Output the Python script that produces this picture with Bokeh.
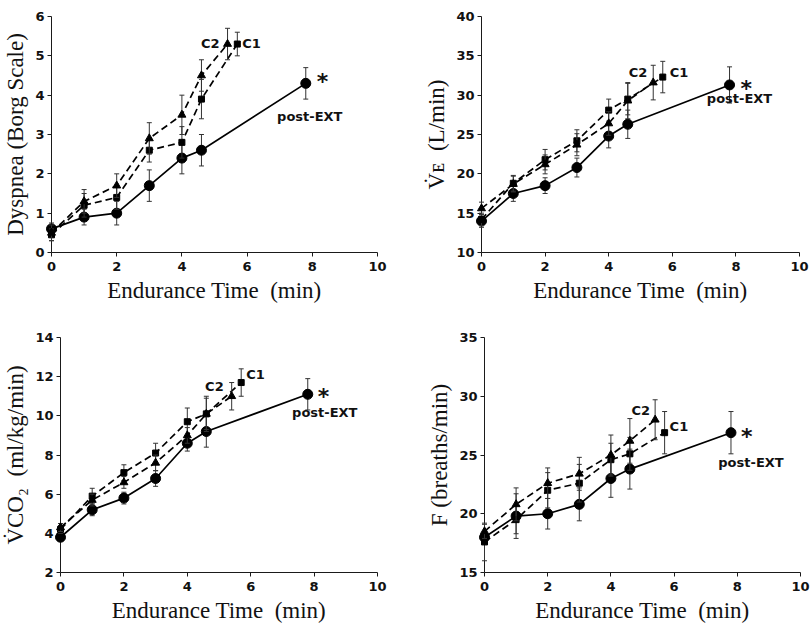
from bokeh.plotting import figure
from bokeh.layouts import column, row
from bokeh.models import Range1d, FixedTicker, ColumnDataSource
from bokeh.core.properties import value
from bokeh.embed import file_html
from bokeh.resources import INLINE

# ---- data ----
time_post = [0, 1, 2, 3, 4, 4.6, 7.8]
time_c1 = [0, 1, 2, 3, 4, 4.6, 5.7]
time_c2 = [0, 1, 2, 3, 4, 4.6, 5.4]
x_ticks = [0, 2, 4, 6, 8, 10]

dysp_post = [0.6, 0.9, 1.0, 1.7, 2.4, 2.6, 4.3]
dysp_post_se = [0.15, 0.2, 0.3, 0.4, 0.4, 0.4, 0.4]
dysp_c1 = [0.45, 1.2, 1.4, 2.6, 2.8, 3.9, 5.3]
dysp_c1_se = [0.15, 0.3, 0.3, 0.3, 0.4, 0.5, 0.3]
dysp_c2 = [0.5, 1.3, 1.7, 2.9, 3.5, 4.5, 5.3]
dysp_c2_se = [0.2, 0.3, 0.3, 0.4, 0.5, 0.4, 0.4]
dysp_ticks = [0, 1, 2, 3, 4, 5, 6]

ve_post = [14.0, 17.5, 18.5, 20.8, 24.8, 26.3, 31.3]
ve_post_se = [0.8, 1.0, 1.0, 1.2, 1.5, 1.8, 2.3]
ve_c1 = [14.2, 18.8, 21.8, 24.2, 28.1, 29.5, 32.3]
ve_c1_se = [0.8, 1.0, 1.3, 1.4, 1.4, 2.0, 2.0]
ve_c2 = [15.6, 18.7, 21.2, 23.7, 26.4, 29.3, 31.6]
ve_c2_se = [0.8, 1.0, 1.2, 1.4, 1.5, 2.3, 2.2]
ve_ticks = [10, 15, 20, 25, 30, 35, 40]

vco2_post = [3.8, 5.2, 5.8, 6.8, 8.6, 9.2, 11.1]
vco2_post_se = [0.2, 0.3, 0.3, 0.4, 0.4, 0.8, 0.8]
vco2_c1 = [4.2, 5.9, 7.1, 8.1, 9.7, 10.1, 11.7]
vco2_c1_se = [0.2, 0.4, 0.4, 0.5, 0.7, 0.9, 0.7]
vco2_c2 = [4.3, 5.7, 6.6, 7.6, 9.0, 10.1, 11.0]
vco2_c2_se = [0.2, 0.3, 0.3, 0.4, 0.4, 0.8, 0.7]
vco2_ticks = [2, 4, 6, 8, 10, 12, 14]

f_post = [18.0, 19.8, 20.0, 20.8, 23.0, 23.8, 26.9]
f_post_se = [0.5, 1.9, 1.3, 1.4, 1.6, 1.7, 1.8]
f_c1 = [17.6, 19.5, 22.0, 22.6, 24.6, 25.1, 26.9]
f_c1_se = [1.6, 1.2, 1.5, 1.6, 1.4, 1.4, 1.8]
f_c2 = [18.5, 20.8, 22.6, 23.4, 25.0, 26.2, 28.0]
f_c2_se = [0.6, 1.4, 1.3, 1.4, 1.7, 1.9, 1.7]
f_ticks = [15, 20, 25, 30, 35]

x_label = "Endurance Time \u00a0(min)"
SANS = "'DejaVu Sans'"
SERIF = "'Liberation Serif', 'Times New Roman', serif"


def make_panel(ylabel, yticks, post, post_se, c1, c1_se, c2, c2_se,
               width, height, borders, offs):
    left, right, top, bottom = borders
    p = figure(width=width, height=height,
               x_range=Range1d(0, 10), y_range=Range1d(yticks[0], yticks[-1]),
               min_border_left=left, min_border_right=right,
               min_border_top=top, min_border_bottom=bottom,
               output_backend="svg", toolbar_location=None)
    p.outline_line_color = None
    p.xgrid.visible = False
    p.ygrid.visible = False
    p.background_fill_color = "white"
    p.border_fill_color = "white"

    for ax in (p.xaxis[0], p.yaxis[0]):
        ax.axis_line_color = "#1a1a1a"
        ax.axis_line_width = 1
        ax.major_tick_line_color = "#1a1a1a"
        ax.major_tick_out = 4
        ax.major_tick_in = 0
        ax.minor_tick_line_color = None
        ax.major_label_text_font = SANS
        ax.major_label_text_font_style = "bold"
        ax.major_label_text_font_size = "13px"
        ax.major_label_text_color = "#111111"
        ax.axis_label_text_font = SERIF
        ax.axis_label_text_font_style = "normal"
        ax.axis_label_text_font_size = "23px"
        ax.axis_label_text_color = "#111111"
    p.xaxis.ticker = FixedTicker(ticks=x_ticks)
    p.yaxis.ticker = FixedTicker(ticks=yticks)
    p.xaxis.axis_label = x_label
    p.yaxis.axis_label = ylabel
    p.xaxis.major_label_standoff = 5
    p.yaxis.major_label_standoff = 3
    p.xaxis.axis_label_standoff = 4
    p.yaxis.axis_label_standoff = 4

    series = [
        (time_post, post, post_se, "solid", "circle", 10),
        (time_c1, c1, c1_se, "7 4", "square", 6),
        (time_c2, c2, c2_se, "7 4", "triangle", 8),
    ]
    for xs, ys, se, dash, marker, size in series:
        src = ColumnDataSource(dict(
            x=xs, y=ys,
            lo=[v - e for v, e in zip(ys, se)],
            hi=[v + e for v, e in zip(ys, se)]))
        p.segment(x0="x", y0="lo", x1="x", y1="hi", source=src,
                  line_color="#333333", line_width=1, level="overlay")
        p.scatter(x="x", y="lo", source=src, marker="dash", size=5,
                  line_color="#333333", line_width=1, level="overlay")
        p.scatter(x="x", y="hi", source=src, marker="dash", size=5,
                  line_color="#333333", line_width=1, level="overlay")
        p.line(x="x", y="y", source=src, line_color="black", line_width=1.7,
               line_dash=dash, level="overlay")
        p.scatter(x="x", y="y", source=src, marker=marker, size=size,
                  fill_color="black", line_color="black", level="overlay")

    # labels anchored to the final point of each series
    labels = [
        (time_c2[-1], c2[-1], "C2", "right", offs["C2"], "13px"),
        (time_c1[-1], c1[-1], "C1", "left", offs["C1"], "13px"),
        (time_post[-1], post[-1], "*", "left", offs["star"], "22px"),
        (time_post[-1], post[-1], "post-EXT", "center", offs["post"], "13px"),
    ]
    for x, y, t, align, (dx, dy), fs in labels:
        p.text(x=[x], y=[y], text=[t], x_offset=dx, y_offset=dy,
               text_align=align, text_baseline="middle",
               text_font=value(SANS), text_font_style="bold",
               text_font_size=fs, text_color="#111111", level="overlay")
    return p


p1 = make_panel("Dyspnea (Borg Scale)", dysp_ticks,
                dysp_post, dysp_post_se, dysp_c1, dysp_c1_se, dysp_c2, dysp_c2_se,
                400, 312, (51, 23, 15, 60),
                {"C2": (-8, -1), "C1": (5, -1), "star": (11, -2), "post": (4, 33)})
p2 = make_panel("V\u0307\u1d07 \u00a0(L/min)", ve_ticks,
                ve_post, ve_post_se, ve_c1, ve_c1_se, ve_c2, ve_c2_se,
                410, 312, (81, 11, 16, 56),
                {"C2": (-6, -10), "C1": (7, -5), "star": (11, 4), "post": (10, 14)})
p3 = make_panel("V\u0307CO\u2082 \u00a0(ml/kg/min)", vco2_ticks,
                vco2_post, vco2_post_se, vco2_c1, vco2_c1_se, vco2_c2, vco2_c2_se,
                400, 322, (60, 23, 22, 62),
                {"C2": (-8, -10), "C1": (5, -8), "star": (10, 2), "post": (17, 18)})
p4 = make_panel("F (breaths/min)", f_ticks,
                f_post, f_post_se, f_c1, f_c1_se, f_c2, f_c2_se,
                410, 322, (84, 10, 25, 60),
                {"C2": (-5, -9), "C1": (5, -6), "star": (10, 4), "post": (20, 30)})

layout = column(row(p1, p2), row(p3, p4))
open("out.html", "w").write(file_html(layout, INLINE))
